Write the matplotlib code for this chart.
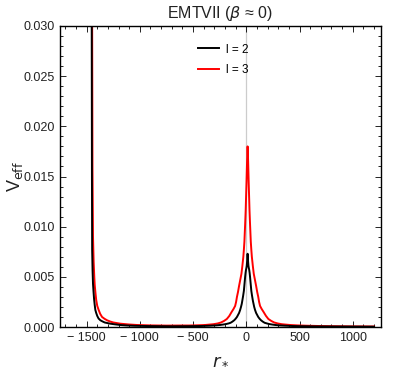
import matplotlib

matplotlib.use("Agg")

import matplotlib.pyplot as plt
from matplotlib.ticker import MultipleLocator

# l = 2 (black)
r_l2 = [-1454, -1452, -1450, -1448, -1444, -1440, -1435, -1430, -1424, -1418,
        -1410, -1400, -1388, -1371, -1350, -1330, -1300, -1277, -1230, -1183,
        -1120, -1050, -900, -700, -550, -420, -338, -290, -248, -215,
        -188, -165, -148, -130, -113, -100, -88, -78, -68, -58,
        -50, -43, -38, -30, -23, -17, -11, -7, -3, 1,
        4, 8, 10, 12, 14, 16, 20, 23, 27, 31,
        35, 41, 47, 54, 62, 68, 74, 82, 92, 102,
        112, 124, 137, 154, 172, 192, 212, 240, 272, 310,
        362, 430, 512, 650, 812, 1000, 1200]
v_l2 = [0.05, 0.030, 0.015, 0.0077, 0.0056, 0.0043, 0.0035, 0.0028, 0.0022, 0.0017,
        0.0014, 0.0011, 0.00085, 0.00067, 0.00055, 0.00045, 0.00038, 0.00033, 0.00026, 0.0002,
        0.00015, 0.00012, 0.00009, 0.00007, 0.00008, 0.0001, 0.00013, 0.00016, 0.0002, 0.00025,
        0.0003, 0.00036, 0.00042, 0.00054, 0.00068, 0.00083, 0.0010, 0.0012, 0.0014, 0.0017,
        0.0020, 0.0023, 0.0026, 0.0031, 0.0036, 0.0043, 0.0050, 0.0054, 0.0057, 0.0059,
        0.0061, 0.0066, 0.0070, 0.0073, 0.0070, 0.0066, 0.0061, 0.0059, 0.0057, 0.0054,
        0.0050, 0.0043, 0.0036, 0.0031, 0.0026, 0.0023, 0.0020, 0.0017, 0.0014, 0.0012,
        0.0010, 0.00083, 0.00068, 0.00054, 0.00042, 0.00036, 0.0003, 0.00025, 0.0002, 0.00016,
        0.00013, 0.0001, 0.00008, 0.00006, 0.00005, 0.00004, 0.00003]

# l = 3 (red)
r_l3 = [-1452, -1448, -1445, -1440, -1434, -1428, -1424, -1417, -1410, -1400,
        -1387, -1372, -1355, -1332, -1308, -1280, -1249, -1183, -1100, -1026,
        -900, -750, -600, -538, -460, -388, -308, -270, -238, -210,
        -183, -160, -138, -120, -105, -96, -88, -78, -68, -57,
        -46, -37, -28, -23, -18, -14, -10, -6, -3, 2,
        7, 10, 12, 14, 17, 22, 27, 30, 34, 38,
        42, 47, 52, 61, 70, 81, 92, 102, 112, 120,
        129, 144, 162, 185, 207, 235, 262, 296, 332, 370,
        412, 480, 562, 680, 812, 1000, 1200]
v_l3 = [0.05, 0.030, 0.016, 0.0090, 0.0065, 0.0050, 0.0042, 0.0034, 0.0027, 0.0021,
        0.0017, 0.0013, 0.0010, 0.00082, 0.00067, 0.00055, 0.00045, 0.00033, 0.00025, 0.0002,
        0.00016, 0.00014, 0.00015, 0.00015, 0.00017, 0.0002, 0.00028, 0.00035, 0.00045, 0.0006,
        0.0008, 0.0011, 0.0015, 0.0018, 0.0021, 0.0025, 0.0030, 0.0035, 0.0041, 0.0047,
        0.0053, 0.0061, 0.0070, 0.0077, 0.0085, 0.0095, 0.0105, 0.0116, 0.0127, 0.0145,
        0.0165, 0.0175, 0.0180, 0.0175, 0.0165, 0.0145, 0.0127, 0.0116, 0.0105, 0.0095,
        0.0085, 0.0077, 0.0070, 0.0061, 0.0053, 0.0047, 0.0041, 0.0035, 0.0030, 0.0025,
        0.0021, 0.0018, 0.0015, 0.0011, 0.0008, 0.0006, 0.00045, 0.00035, 0.00028, 0.00024,
        0.0002, 0.00016, 0.00013, 0.0001, 0.00008, 0.00006, 0.00005]

x_ticks = [-1500, -1000, -500, 0, 500, 1000]
y_ticks = [0.000, 0.005, 0.010, 0.015, 0.020, 0.025, 0.030]

plt.rcParams["font.family"] = ["Liberation Sans", "DejaVu Sans"]

fig = plt.figure(figsize=(4.12, 3.72), dpi=100)
ax = fig.add_axes([60 / 412, 1 - 327 / 372, 321 / 412, 301 / 372])

ax.axvline(0, color="#cccccc", linewidth=0.9, zorder=1)
ax.plot(r_l2, v_l2, color="black", linewidth=1.4, label="l = 2", zorder=3)
ax.plot(r_l3, v_l3, color="#ff0000", linewidth=1.4, label="l = 3", zorder=2)

ax.set_xlim(-1750, 1265)
ax.set_ylim(0, 0.030)
ax.set_xticks(x_ticks)
ax.set_xticklabels([f"{t}".replace("-", "\u2212 ") for t in x_ticks])
ax.set_yticks(y_ticks)
ax.set_yticklabels([f"{t:.3f}" for t in y_ticks])
ax.xaxis.set_minor_locator(MultipleLocator(100))
ax.yaxis.set_minor_locator(MultipleLocator(0.001))
ax.tick_params(which="both", direction="in", top=True, right=True,
               labelsize=9, labelcolor="#222222", width=0.6)
ax.tick_params(which="major", length=4)
ax.tick_params(which="minor", length=2)
for sp in ax.spines.values():
    sp.set_linewidth(1.0)

ax.set_title(r"EMTVII ($\beta$ ≈ 0)", fontsize=11.5, color="#222222", pad=6)
ax.set_xlabel(r"$r_*$", fontsize=13, color="#222222", labelpad=5)
ax.set_ylabel(r"V$_{\rm eff}$", fontsize=13, color="#222222", labelpad=-1)

ax.legend(loc="upper left", bbox_to_anchor=(187 / 412, 1 - 33 / 372),
          bbox_transform=fig.transFigure, frameon=False, fontsize=8.5,
          handlelength=1.8, handletextpad=0.6, labelspacing=0.75)

fig.savefig("out.png", dpi=100)
